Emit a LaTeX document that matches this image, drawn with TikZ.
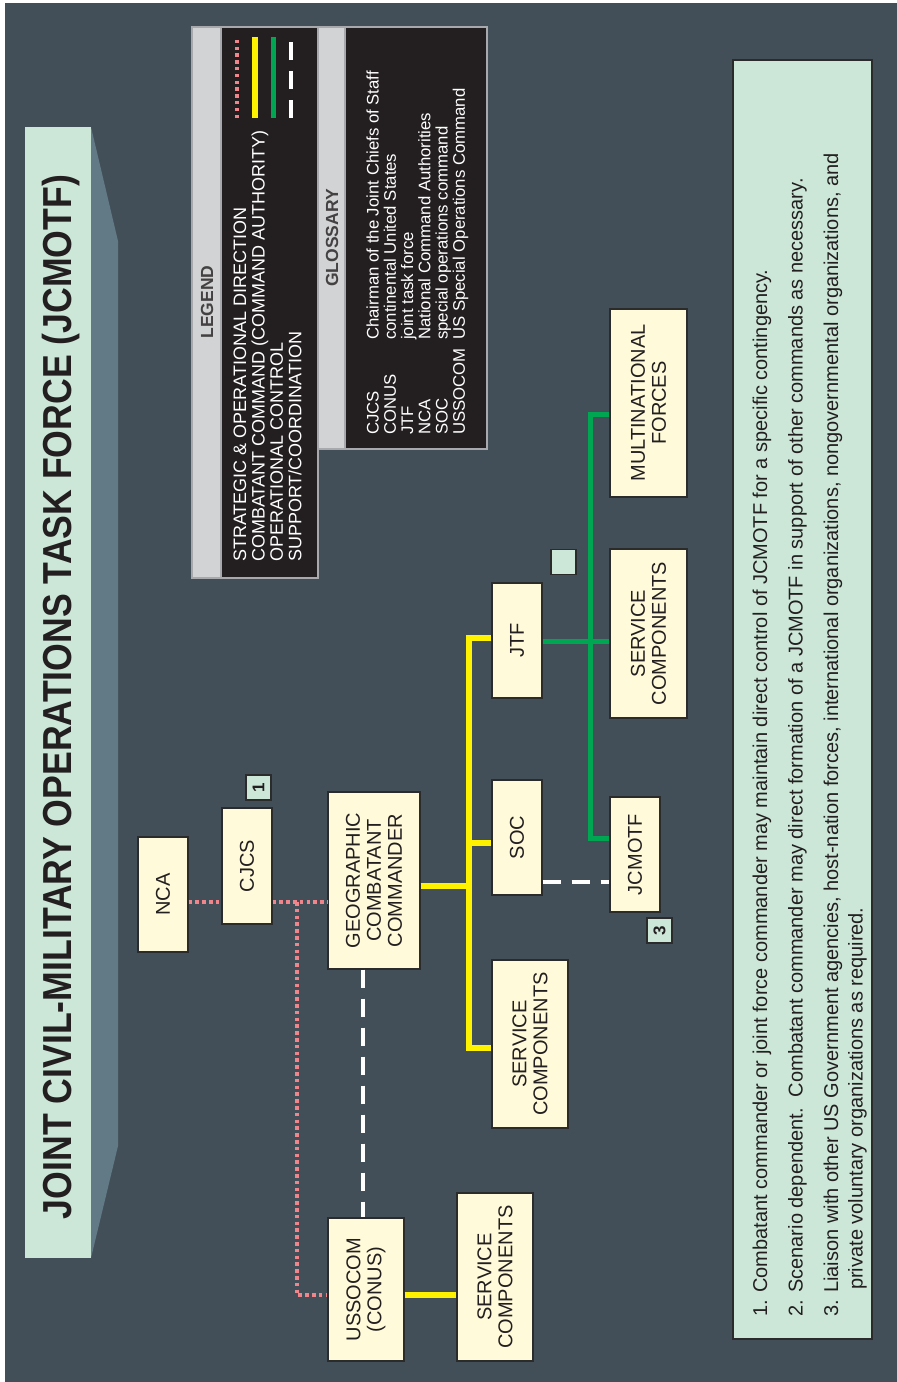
\documentclass[tikz,border=0pt]{standalone}
\usepackage{fontspec}
\setmainfont{Liberation Sans}
\newfontfamily\titlefont[FakeStretch=0.88]{Liberation Sans}
\definecolor{slate}{HTML}{434F58}
\definecolor{mint}{HTML}{CCE7D7}
\definecolor{bannerside}{HTML}{627986}
\definecolor{cream}{HTML}{FFFBDA}
\definecolor{edge}{HTML}{2B2B2B}
\definecolor{ink}{HTML}{231F20}
\definecolor{strip}{HTML}{D1D3D4}
\definecolor{rim}{HTML}{A7A9AC}
\definecolor{cmdy}{HTML}{FFF200}
\definecolor{opcg}{HTML}{00A651}
\definecolor{sodp}{HTML}{F0868C}
\tikzset{
  unit/.style={draw=edge,line width=1.2pt,fill=cream,rotate=90,inner sep=0pt,align=center,text=ink,font=\fontsize{20}{21}\selectfont},
  tag/.style={draw=edge,line width=1.2pt,fill=mint,rotate=90,minimum size=25pt,inner sep=0pt,text=ink,font=\bfseries\fontsize{17}{17}\selectfont},
  panel/.style={draw=rim,line width=1.5pt,fill=strip},
  inkpanel/.style={draw=rim,line width=1.5pt,fill=ink},
  head/.style={rotate=90,text=ink!85,font=\bfseries\fontsize{17.5}{17.5}\selectfont},
  lbl/.style={rotate=90,anchor=base west,inner sep=0pt,text=white},
  sod/.style={draw=sodp,line width=4pt,dash pattern=on 3.5pt off 3.3pt},
  cmd/.style={draw=cmdy,line width=5.5pt},
  opc/.style={draw=opcg,line width=5pt},
  sup/.style={draw=white,line width=4pt,dash pattern=on 18pt off 11pt},
}
\begin{document}
\begin{tikzpicture}[x=1pt,y=-1pt]
  \useasboundingbox (0,0) rectangle (897,1382);
  \fill[white] (0,0) rectangle (897,1382);
  \fill[slate] (5,3) rectangle (897,1382);

  \fill[bannerside] (91,127) -- (118,241) -- (118,1146) -- (91,1258) -- cycle;
  \fill[mint] (25,127) rectangle (91,1258);
  \node[rotate=90,text=ink,font=\titlefont\bfseries\fontsize{40.5}{40.5}\selectfont] (title) at (61,697) {JOINT CIVIL-MILITARY OPERATIONS TASK FORCE (JCMOTF)};

  \draw[panel] (192,27) rectangle (318,578);
  \draw[inkpanel] (221,27) rectangle (318,578);
  \node[head] (leghead) at (207,302) {LEGEND};
  \node[lbl,font=\fontsize{18}{18.3}\selectfont] (legtext) at (246,562) {\begin{tabular}[t]{@{}l@{}}
    STRATEGIC \& OPERATIONAL DIRECTION\\
    COMBATANT COMMAND (COMMAND AUTHORITY)\\
    OPERATIONAL CONTROL\\
    SUPPORT/COORDINATION\end{tabular}};
  \draw[sod] (237,118) -- (237,40);
  \draw[cmd] (255,118) -- (255,37);
  \draw[opc] (273,118) -- (273,37);
  \draw[sup] (291,118) -- (291,40);

  \draw[panel] (318,27) rectangle (487,449);
  \draw[inkpanel] (345,27) rectangle (487,449);
  \node[head] (glohead) at (332,238) {GLOSSARY};
  \node[lbl,font=\fontsize{16.75}{17.2}\selectfont] (glotext) at (378.5,435) {\begin{tabular}[t]{@{}p{95pt}@{}l@{}}
    CJCS & Chairman of the Joint Chiefs of Staff\\
    CONUS & continental United States\\
    JTF & joint task force\\
    NCA & National Command Authorities\\
    SOC & special operations command\\
    USSOCOM & US Special Operations Command\end{tabular}};

  \node[unit,minimum width=115pt,minimum height=50pt] (nca) at (163,894.5) {NCA};
  \node[unit,minimum width=116pt,minimum height=50pt] (cjcs) at (247,866) {CJCS};
  \node[unit,minimum width=177pt,minimum height=92pt] (gcc) at (374,880.5) {GEOGRAPHIC\\COMBATANT\\COMMANDER};
  \node[unit,minimum width=115pt,minimum height=50pt] (soc) at (517,837.5) {SOC};
  \node[unit,minimum width=115pt,minimum height=50pt] (jtf) at (517,640.5) {JTF};
  \node[unit,minimum width=168pt,minimum height=76pt] (gccsc) at (530,1044) {SERVICE\\COMPONENTS};
  \node[unit,minimum width=143pt,minimum height=76pt] (ussocom) at (366,1289.5) {USSOCOM\\(CONUS)};
  \node[unit,minimum width=168pt,minimum height=76pt] (socsc) at (495,1277) {SERVICE\\COMPONENTS};
  \node[unit,minimum width=169pt,minimum height=77pt] (jtfsc) at (648.5,633.5) {SERVICE\\COMPONENTS};
  \node[unit,minimum width=115pt,minimum height=50pt] (jcmotf) at (635,854.5) {JCMOTF};
  \node[unit,minimum width=188pt,minimum height=77pt] (mnf) at (648.5,403) {MULTINATIONAL\\FORCES};

  \node[tag] (note1) at (258.5,787.5) {1};
  \node[tag] (note2) at (563.5,562) {};
  \node[tag] (note3) at (659.5,930.5) {3};

  \coordinate (sodtap) at (297,902);
  \coordinate (cmdbus) at (469,886);
  \coordinate (opcbus) at (590,641);

  \draw[sod] (nca.south |- sodtap) -- (cjcs.north |- sodtap);
  \draw[sod] (cjcs.south |- sodtap) -- (gcc.north |- sodtap);
  \draw[sod] (sodtap) |- (ussocom.north |- 0,1295);
  \draw[sup] (gcc.west -| 363,0) -- (ussocom.east -| 363,0);

  \draw[cmd] (gcc.south |- cmdbus) -- (cmdbus);
  \draw[cmd] (jtf.north |- 0,638) -| (cmdbus) |- (gccsc.north |- 0,1048);
  \draw[cmd] (cmdbus |- 0,843) -- (soc.north |- 0,843);
  \draw[cmd] (ussocom.south |- 0,1295) -- (socsc.north |- 0,1295);

  \draw[opc] (jtf.south |- opcbus) -- (jtfsc.north |- opcbus);
  \draw[opc] (mnf.north |- 0,414) -| (opcbus) |- (jcmotf.north |- 0,838);
  \draw[sup] (soc.south |- 0,882) -- (jcmotf.north |- 0,882);

  \draw[draw=edge,line width=1.2pt,fill=mint] (733,60) rectangle (872,1339);
  \node[lbl,text=ink,font=\fontsize{20}{24.5}\selectfont] (notes) at (767,1317) {\begin{tabular}[t]{@{}l@{}}
    1. Combatant commander or joint force commander may maintain direct control of JCMOTF for a specific contingency.\\[11pt]
    2. Scenario dependent.\ \ Combatant commander may direct formation of a JCMOTF in support of other commands as necessary.\\[11pt]
    3. Liaison with other US Government agencies, host-nation forces, international organizations, nongovernmental organizations, and\\
    \hspace{27pt}private voluntary organizations as required.\end{tabular}};
\end{tikzpicture}
\end{document}
